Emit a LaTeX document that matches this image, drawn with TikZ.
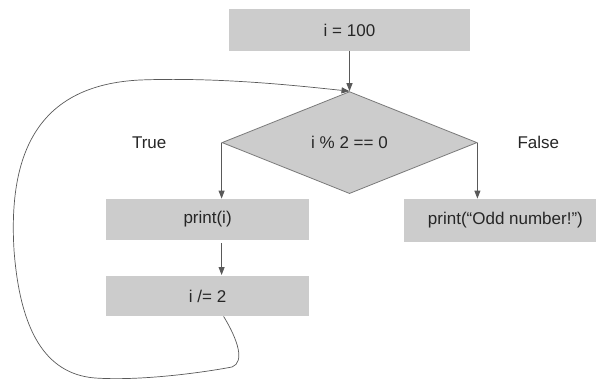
\documentclass[tikz,border=0pt]{standalone}
\usepackage{fontspec}
\setmainfont{Liberation Sans}
\usepackage{tikz}
\usetikzlibrary{positioning,shapes.geometric,arrows.meta}

\definecolor{boxgray}{HTML}{CCCCCC}
\definecolor{linegray}{HTML}{595959}
\definecolor{textgray}{HTML}{262626}

\tikzset{
  box/.style={rectangle, fill=boxgray, minimum width=203pt, minimum height=41pt, inner sep=0pt,
    text=textgray, font=\fontsize{17}{20}\selectfont},
  decision/.style={diamond, fill=boxgray, draw=linegray!80, line width=0.8pt, minimum width=255pt,
    minimum height=102pt, inner sep=0pt, text=textgray, font=\fontsize{17}{20}\selectfont},
  lbl/.style={text=textgray, font=\fontsize{17}{20}\selectfont, inner sep=0pt},
  arr/.style={draw=linegray, line width=0.9pt, -{Triangle[length=8pt,width=6pt]}},
}

\begin{document}
\begin{tikzpicture}[x=1pt, y=-1pt]
  \useasboundingbox (0,0) rectangle (596,379);
  % Define nodes
  \node[box, minimum width=241pt, minimum height=42pt] at (349.5,30) (init) {i = 100};
  \node[decision, below=40pt of init] (cond) {i \% 2 == 0};
  \node[box, below=56pt of cond.west, xshift=-14pt] (trueBox) {print(i)};
  \node[box, below=36pt of trueBox, minimum height=40pt] (updBox) {i /= 2};
  \node[box, below=56pt of cond.east, xshift=28pt, minimum height=43pt] (falseBox) {print(“Odd number!”)};
  % branch labels
  \node[lbl, left=55pt of cond.west] (trueLbl) {True};
  \node[lbl, right=40pt of cond.east] (falseLbl) {False};
  % connect the steps
  \draw[arr] (init) -- (cond);
  \draw[arr] (cond.west) -- (cond.west |- trueBox.north);
  \draw[arr] (cond.east) -- (cond.east |- falseBox.north);
  \draw[arr] (trueBox.south -| cond.west) ++(0,3) -- ([yshift=1pt]updBox.north -| cond.west);
  % loop back to the test
  \coordinate (loopStart) at ([xshift=16pt]updBox.south);
  \draw[arr, line width=0.7pt] (loopStart)
    .. controls (238,340) and (245,362) .. (232,367)
    .. controls (200,373) and (140,381) .. (95,378)
    .. controls (45,374) and (20,330) .. (14,250)
    .. controls (8,150) and (40,85) .. (140,80)
    .. controls (220,77) and (300,86) .. (cond.north);
\end{tikzpicture}
\end{document}
